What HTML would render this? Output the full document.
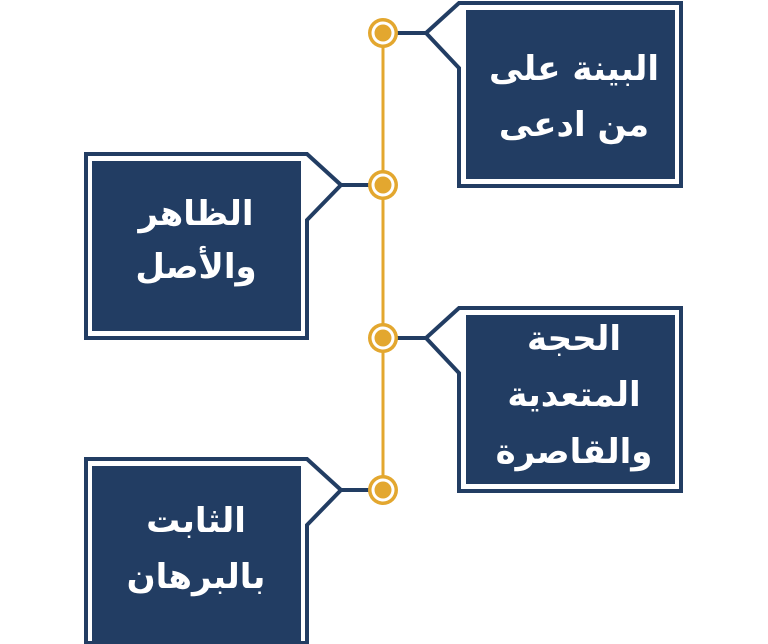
<!DOCTYPE html>
<html><head><meta charset="utf-8"><style>
html,body{margin:0;padding:0;background:#fff;width:768px;height:644px;overflow:hidden}
svg{display:block}
text{font-family:"DejaVu Sans","Liberation Sans",sans-serif;font-size:34px;fill:#fff;text-anchor:middle;font-weight:bold}
</style></head><body>
<svg width="768" height="644" viewBox="0 0 768 644" xmlns="http://www.w3.org/2000/svg">
<line x1="383" y1="33" x2="383" y2="490" stroke="#e3a72f" stroke-width="3"/>
<g fill="#fff" stroke="#223d63" stroke-width="4" stroke-linejoin="miter">
<line x1="383" y1="33" x2="426" y2="33"/>
<path d="M459,3 L681,3 L681,186 L459,186 L459,68 L426,33 Z"/>
<line x1="341" y1="185" x2="383" y2="185"/>
<path d="M86,154 L307,154 L341,185 L307,220 L307,338 L86,338 Z"/>
<line x1="383" y1="338" x2="426" y2="338"/>
<path d="M459,308 L681,308 L681,491 L459,491 L459,373 L426,338 Z"/>
<line x1="341" y1="490" x2="383" y2="490"/>
<path d="M86,459 L307,459 L341,490 L307,525 L307,643 L86,643 Z"/>
</g>
<g fill="#223d63">
<rect x="466" y="10" width="209" height="169"/>
<rect x="92" y="161" width="209" height="170"/>
<rect x="466" y="315" width="209" height="169"/>
<rect x="92" y="466" width="209" height="178"/>
</g>
<g>
<circle cx="383" cy="33" r="15" fill="#e3a72f"/><circle cx="383" cy="33" r="11.5" fill="#fff"/><circle cx="383" cy="33" r="8.5" fill="#e3a72f"/>
<circle cx="383" cy="185" r="15" fill="#e3a72f"/><circle cx="383" cy="185" r="11.5" fill="#fff"/><circle cx="383" cy="185" r="8.5" fill="#e3a72f"/>
<circle cx="383" cy="338" r="15" fill="#e3a72f"/><circle cx="383" cy="338" r="11.5" fill="#fff"/><circle cx="383" cy="338" r="8.5" fill="#e3a72f"/>
<circle cx="383" cy="490" r="15" fill="#e3a72f"/><circle cx="383" cy="490" r="11.5" fill="#fff"/><circle cx="383" cy="490" r="8.5" fill="#e3a72f"/>
</g>
<text x="574" y="80">البينة على</text>
<text x="574" y="136">من ادعى</text>
<text x="196" y="225">الظاهر</text>
<text x="196" y="278">والأصل</text>
<text x="574" y="350">الحجة</text>
<text x="574" y="406">المتعدية</text>
<text x="574" y="463">والقاصرة</text>
<text x="196" y="532">الثابت</text>
<text x="196" y="588">بالبرهان</text>
</svg>
</body></html>
